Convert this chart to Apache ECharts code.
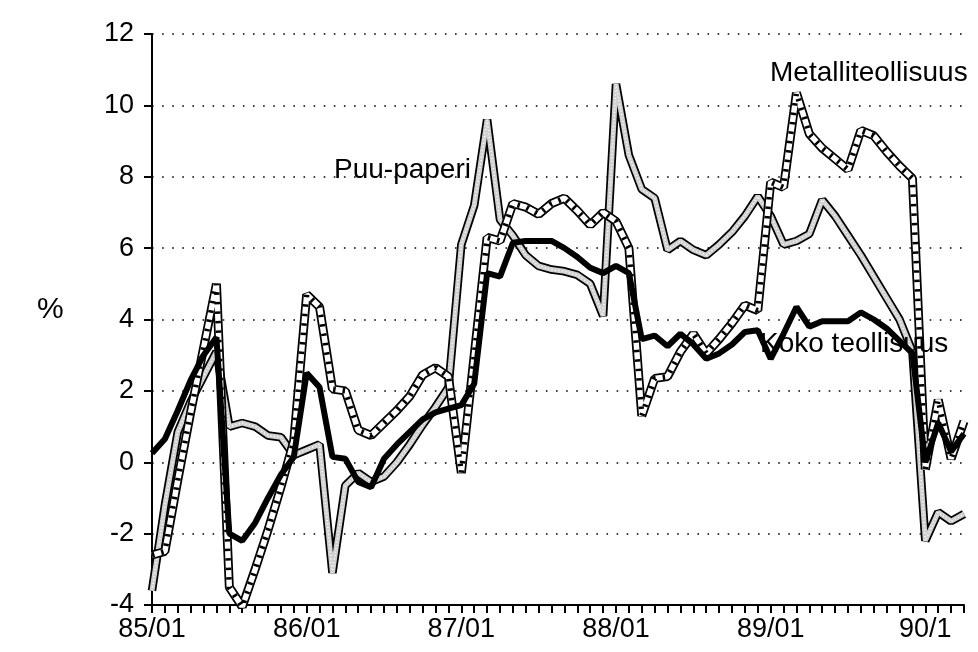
<!DOCTYPE html>
<html>
<head>
<meta charset="utf-8">
<script src="https://cdn.jsdelivr.net/npm/echarts@6/dist/echarts.min.js"></script>
<style>
  html, body { margin: 0; padding: 0; background: #fff; }
  #chart { width: 978px; height: 652px; }
</style>
</head>
<body>
<div id="chart"></div>
<script>
// ---- data ----
const months = [
  "85/01","85/02","85/03","85/04","85/05","85/06","85/07","85/08","85/09","85/10","85/11","85/12",
  "86/01","86/02","86/03","86/04","86/05","86/06","86/07","86/08","86/09","86/10","86/11","86/12",
  "87/01","87/02","87/03","87/04","87/05","87/06","87/07","87/08","87/09","87/10","87/11","87/12",
  "88/01","88/02","88/03","88/04","88/05","88/06","88/07","88/08","88/09","88/10","88/11","88/12",
  "89/01","89/02","89/03","89/04","89/05","89/06","89/07","89/08","89/09","89/10","89/11","89/12",
  "90/01","90/02","90/03","90/04"
];
const xTickLabels = ["85/01","86/01","87/01","88/01","89/01","90/1"];
const yTicks = [-4,-2,0,2,4,6,8,10,12];

const kokoTeollisuus = [
  0.25,0.65,1.45,2.3,3.0,3.5,-2.0,-2.2,-1.7,-1.0,-0.35,0.15,
  2.5,2.1,0.15,0.1,-0.55,-0.7,0.1,0.5,0.85,1.2,1.4,1.5,
  1.6,2.2,5.3,5.2,6.15,6.2,6.2,6.2,6.0,5.75,5.45,5.3,
  5.5,5.3,3.45,3.55,3.25,3.6,3.3,2.9,3.05,3.3,3.65,3.7,
  2.9,3.6,4.35,3.8,3.95,3.95,3.95,4.2,4.0,3.75,3.4,3.05,
  0.0,1.1,0.3,0.8
];
const metalliteollisuus = [
  -2.6,-2.5,-0.5,1.4,3.2,5.0,-3.5,-4.05,-3.0,-1.9,-0.7,0.6,
  4.7,4.35,2.05,2.0,0.9,0.75,1.1,1.45,1.85,2.45,2.65,2.4,
  -0.3,3.0,6.3,6.2,7.25,7.15,6.95,7.25,7.4,7.05,6.65,7.0,
  6.75,6.0,1.3,2.35,2.4,3.1,3.6,3.05,3.45,3.9,4.4,4.25,
  7.85,7.7,10.35,9.2,8.8,8.5,8.2,9.3,9.15,8.7,8.3,7.95,
  -0.2,1.75,0.1,1.15
];
const puuPaperi = [
  -3.6,-1.2,0.85,1.7,2.4,3.1,1.0,1.1,1.0,0.75,0.7,0.2,
  0.35,0.5,-3.1,-0.65,-0.3,-0.55,-0.4,0.0,0.5,1.05,1.55,2.1,
  6.1,7.2,9.6,6.8,6.35,5.8,5.5,5.4,5.35,5.25,5.0,4.1,
  10.6,8.6,7.65,7.4,5.95,6.2,5.95,5.8,6.1,6.45,6.9,7.45,
  6.9,6.1,6.2,6.4,7.35,6.9,6.35,5.8,5.2,4.6,4.0,3.1,
  -2.2,-1.4,-1.65,-1.45
];
const seriesNames = ["Koko teollisuus","Metalliteollisuus","Puu-paperi"];
const yAxisName = "%";

// ---- chart ----
const FONT = '"Liberation Sans", Arial, Helvetica, sans-serif';
const chart = echarts.init(document.getElementById('chart'), null, { renderer: 'canvas' });

function line(name, data, color, width, type, z) {
  return {
    name: name, type: 'line', data: data, symbol: 'none', silent: true,
    animation: false, z: z,
    lineStyle: { color: color, width: width, type: type || 'solid', join: 'bevel', cap: 'butt' }
  };
}

chart.setOption({
  backgroundColor: '#ffffff',
  animation: false,
  grid: { left: 152, right: 14, top: 34, bottom: 47 },
  xAxis: {
    type: 'category',
    data: months,
    boundaryGap: false,
    axisLine: { show: true, onZero: false, lineStyle: { color: '#000', width: 2 } },
    axisTick: { show: true, interval: 0, length: 8, lineStyle: { color: '#000', width: 2 } },
    axisLabel: {
      interval: 0, margin: 11, color: '#000', fontSize: 27, fontFamily: FONT,
      formatter: function (v, i) { return i % 12 === 0 ? xTickLabels[i / 12] : ''; }
    },
    splitLine: { show: false }
  },
  yAxis: {
    type: 'value',
    min: yTicks[0], max: yTicks[yTicks.length - 1], interval: 2,
    axisLine: { show: true, lineStyle: { color: '#000', width: 2 } },
    axisTick: { show: true, length: 8, lineStyle: { color: '#000', width: 2 } },
    axisLabel: { margin: 18, color: '#000', fontSize: 27, fontFamily: FONT },
    splitLine: { show: true, lineStyle: { color: '#000', width: 1.6, type: [1.6, 8.5] } }
  },
  series: [
    // Puu-paperi (stippled)
    line(seriesNames[2], puuPaperi, '#000', 8.5, 'solid', 2),
    line(seriesNames[2], puuPaperi, '#d0d0d0', 5, 'solid', 3),
    line(seriesNames[2], puuPaperi, '#ffffff', 1.5, [1, 2.5], 4),
    // Metalliteollisuus (hatched)
    line(seriesNames[1], metalliteollisuus, '#000', 9, 'solid', 5),
    line(seriesNames[1], metalliteollisuus, '#ffffff', 5.5, 'solid', 6),
    line(seriesNames[1], metalliteollisuus, '#000', 5.5, [2.5, 7], 7),
    // Koko teollisuus (thick black)
    line(seriesNames[0], kokoTeollisuus, '#000', 6, 'solid', 8)
  ],
  graphic: [
    { type: 'text', left: 37, top: 295, z: 20, style: { text: yAxisName, font: '30px ' + FONT, fill: '#000' } },
    { type: 'text', left: 770, top: 59, z: 20, style: { text: seriesNames[1], font: '28px ' + FONT, fill: '#000' } },
    { type: 'text', left: 334, top: 156, z: 20, style: { text: seriesNames[2], font: '28px ' + FONT, fill: '#000' } },
    { type: 'text', left: 760, top: 330, z: 20, style: { text: seriesNames[0], font: '28px ' + FONT, fill: '#000' } }
  ]
});
</script>
</body>
</html>
